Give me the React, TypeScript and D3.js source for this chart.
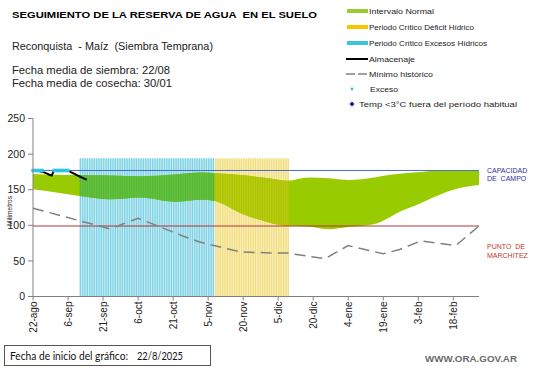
import React from "react";
import * as d3 from "d3";

const W = 541;
const H = 368;

const domainStart = "2025-08-22";
const domainEnd = "2026-03-01";

const tickDates = [
  "2025-08-22", "2025-09-06", "2025-09-21", "2025-10-06", "2025-10-21", "2025-11-05",
  "2025-11-20", "2025-12-05", "2025-12-20", "2026-01-04", "2026-01-19", "2026-02-03", "2026-02-18",
];
const tickLabels = [
  "22-ago", "6-sep", "21-sep", "6-oct", "21-oct", "5-nov",
  "20-nov", "5-dic", "20-dic", "4-ene", "19-ene", "3-feb", "18-feb",
];
const yTicks = [0, 50, 100, 150, 200, 250];

const capacidadCampo = 177;
const puntoMarchitez = 99;
const periodTop = 194;

// Intervalo normal
const bandDates = [
  "2025-08-22", "2025-09-01", "2025-09-11", "2025-09-24", "2025-10-07", "2025-10-22",
  "2025-11-02", "2025-11-08", "2025-11-19", "2025-12-01", "2025-12-09", "2025-12-18",
  "2025-12-27", "2026-01-04", "2026-01-15", "2026-01-18", "2026-01-26", "2026-02-04",
  "2026-02-10", "2026-02-18", "2026-03-01",
];
const bandUpper = [172, 171, 170.5, 170, 169, 171.5, 174, 173, 170.5, 166, 162.5, 167, 166, 163.5, 167, 169, 172.5, 175, 176.5, 177, 177];
const bandLower = [150.5, 146, 141, 136.5, 139, 133, 136, 134, 117, 104, 99, 98, 94.5, 97.5, 101.5, 105, 119, 131, 140, 150, 156.5];

// Mínimo histórico
const minDates = [
  "2025-08-22", "2025-09-24", "2025-10-06", "2025-10-26", "2025-11-01", "2025-11-07",
  "2025-11-19", "2025-12-04", "2025-12-09", "2025-12-25", "2026-01-04", "2026-01-19",
  "2026-01-26", "2026-02-04", "2026-02-19", "2026-03-01",
];
const minValues = [124, 95, 110, 84, 77, 72, 62.5, 61, 61, 53, 71.5, 60, 66, 78, 71.5, 99];

// Almacenaje (diario desde 22/08)
const almStart = "2025-08-22";
const almValues = [177, 177, 177, 176, 175, 174, 172.5, 171, 170, 177, 177, 177, 177, 177, 177, 177, 175, 173.5, 172, 170, 168.5, 167, 165.5, 164];

// Exceso
const excesoDates = [
  "2025-08-22", "2025-08-23", "2025-08-24", "2025-08-25", "2025-08-26",
  "2025-08-31", "2025-09-01", "2025-09-02", "2025-09-03", "2025-09-04", "2025-09-05", "2025-09-06",
];
const excesoValues = [177, 177, 177, 177, 177, 177, 177, 177, 177, 177, 177, 177];

// Periodos críticos
const excesoPeriod = ["2025-09-11", "2025-11-07"];
const deficitPeriod = ["2025-11-08", "2025-12-09"];

const parse = d3.utcParse("%Y-%m-%d");
const P = (s: string) => parse(s) as Date;

const FONT = "'Liberation Sans', Arial, sans-serif";

export default function App() {
  const x = d3.scaleUtc().domain([P(domainStart), P(domainEnd)]).range([33, 479]);
  const y = d3.scaleLinear().domain([0, 250]).range([296.5, 118.5]);

  const bandPts = bandDates.map((d, i) => ({ d: P(d), u: bandUpper[i], l: bandLower[i] }));
  const area = d3
    .area<{ d: Date; u: number; l: number }>()
    .x((p) => x(p.d))
    .y0((p) => y(p.l))
    .y1((p) => y(p.u))
    .curve(d3.curveMonotoneX);
  const bandPath = area(bandPts) || "";

  const minLine = d3
    .line<number>()
    .x((_, i) => x(P(minDates[i])))
    .y((v) => y(v))(minValues) || "";

  const almLine = d3
    .line<number>()
    .x((_, i) => x(d3.utcDay.offset(P(almStart), i)))
    .y((v) => y(v))(almValues) || "";

  const stripeW = 1.3;
  const periodDays = (p: string[]) => d3.utcDay.range(P(p[0]), d3.utcDay.offset(P(p[1]), 1));
  const cyanDays = periodDays(excesoPeriod);
  const yellowDays = periodDays(deficitPeriod);

  const periodRect = (days: Date[], fill: string, key: string) => {
    const x0 = x(days[0]);
    const x1 = x(days[days.length - 1]) + stripeW;
    return <rect key={key} x={x0} y={y(periodTop)} width={x1 - x0} height={y(0) - y(periodTop)} fill={fill} />;
  };
  const stripes = (days: Date[], fill: string, key: string) => (
    <g key={key}>
      {days.map((d, i) => (
        <rect key={i} x={x(d)} y={y(periodTop)} width={stripeW} height={y(0) - y(periodTop)} fill={fill} />
      ))}
    </g>
  );

  const legendRows = [11, 27, 43, 59, 74, 89, 104];
  const pre = { whiteSpace: "pre" } as React.CSSProperties;

  return (
    <svg width={W} height={H} style={{ position: "absolute", left: 0, top: 0, background: "#fff" }} fontFamily={FONT}>
      <defs>
        <clipPath id="bandClip">
          <path d={bandPath} />
        </clipPath>
      </defs>
      <rect x={0} y={0} width={W} height={H} fill="#fff" />

      {/* periods over white */}
      {periodRect(cyanDays, "#c9eef6", "cbg")}
      {stripes(cyanDays, "#7fd2e3", "cst")}
      {periodRect(yellowDays, "#fbf2c6", "ybg")}
      {stripes(yellowDays, "#f1dc7a", "yst")}

      {/* normal band */}
      <path d={bandPath} fill="#99cc00" />
      <g clipPath="url(#bandClip)">
        {periodRect(cyanDays, "#6ac23c", "cbg2")}
        {stripes(cyanDays, "#55b838", "cst2")}
        {periodRect(yellowDays, "#bccd1a", "ybg2")}
        {stripes(yellowDays, "#adc400", "yst2")}
      </g>

      {/* reference lines */}
      <line x1={33} x2={479} y1={y(capacidadCampo)} y2={y(capacidadCampo)} stroke="#4a6ec4" strokeWidth={1} />
      <line x1={33} x2={479} y1={y(puntoMarchitez)} y2={y(puntoMarchitez)} stroke="#b5323a" strokeWidth={1} />

      {/* minimo historico */}
      <path d={minLine} fill="none" stroke="#808080" strokeWidth={1.5} strokeDasharray="11,6" />

      {/* almacenaje */}
      <path d={almLine} fill="none" stroke="#000" strokeWidth={2} />

      {/* exceso */}
      {excesoDates.map((d, i) => (
        <circle key={i} cx={x(P(d))} cy={y(excesoValues[i])} r={1.9} fill="#2fc3e6" />
      ))}

      {/* axes */}
      <line x1={33} x2={33} y1={y(250)} y2={y(0)} stroke="#808080" />
      <line x1={33} x2={479} y1={y(0)} y2={y(0)} stroke="#808080" />
      {yTicks.map((t) => (
        <g key={t}>
          <line x1={28} x2={33} y1={y(t)} y2={y(t)} stroke="#808080" />
          <text x={25} y={y(t)} dy="0.35em" textAnchor="end" fontSize={10.5} fill="#222">
            {t}
          </text>
        </g>
      ))}
      {tickDates.map((d, i) => {
        const xx = x(P(d));
        return (
          <g key={d}>
            <line x1={xx} x2={xx} y1={y(0)} y2={y(0) + 4} stroke="#808080" />
            <text
              transform={`translate(${xx},${y(0) + 5}) rotate(-90)`}
              dy="0.35em"
              textAnchor="end"
              fontSize={10}
              fill="#222"
            >
              {tickLabels[i]}
            </text>
          </g>
        );
      })}
      <text transform={`translate(12,211) rotate(-90)`} textAnchor="middle" fontSize={6.5} fill="#222">
        Milímetros
      </text>

      {/* right labels */}
      <text x={487} y={172.5} fontSize={7} fill="#2f2f9e" style={pre}>CAPACIDAD</text>
      <text x={487} y={180.5} fontSize={7} fill="#2f2f9e" style={pre}>DE  CAMPO</text>
      <text x={487} y={248.5} fontSize={7} fill="#c0392b" style={pre}>PUNTO  DE</text>
      <text x={487} y={258} fontSize={7} fill="#c0392b" style={pre}>MARCHITEZ</text>

      {/* titles */}
      <text x={12} y={18.3} fontSize={8.8} fontWeight="bold" fill="#000" textLength={305} lengthAdjust="spacingAndGlyphs" style={pre}>
        SEGUIMIENTO DE LA RESERVA DE AGUA  EN EL SUELO
      </text>
      <text x={12} y={50} fontSize={10} fill="#222" textLength={201} lengthAdjust="spacingAndGlyphs" style={pre}>
        Reconquista  - Maíz  (Siembra Temprana)
      </text>
      <text x={12} y={74.3} fontSize={10} fill="#222" textLength={158} lengthAdjust="spacingAndGlyphs">
        Fecha media de siembra: 22/08
      </text>
      <text x={12} y={87.3} fontSize={10} fill="#222" textLength={160} lengthAdjust="spacingAndGlyphs">
        Fecha media de cosecha: 30/01
      </text>

      {/* legend */}
      <rect x={347} y={legendRows[0] - 2} width={21} height={4} fill="#99cc33" />
      <rect x={347} y={legendRows[1] - 2} width={21} height={4} fill="#f7c600" />
      <rect x={347} y={legendRows[2] - 2} width={21} height={4} fill="#3cc6dc" />
      <line x1={346} x2={368} y1={legendRows[3]} y2={legendRows[3]} stroke="#000" strokeWidth={2} />
      <line x1={346} x2={368} y1={legendRows[4]} y2={legendRows[4]} stroke="#808080" strokeWidth={1.5} strokeDasharray="9,3" />
      <circle cx={352} cy={legendRows[5]} r={1.4} fill="#2fc3e6" />
      <path d={`M352,${legendRows[6] - 2.5} L354.5,${legendRows[6]} L352,${legendRows[6] + 2.5} L349.5,${legendRows[6]} Z`} fill="#1a1aa0" />
      <g fontSize={7.5} fill="#222">
        <text x={369} y={legendRows[0] + 2.6} textLength={65} lengthAdjust="spacingAndGlyphs">Intervalo Normal</text>
        <text x={369} y={legendRows[1] + 2.6} textLength={105} lengthAdjust="spacingAndGlyphs">Periodo Crítico Déficit Hídrico</text>
        <text x={369} y={legendRows[2] + 2.6} textLength={118} lengthAdjust="spacingAndGlyphs">Periodo Crítico Excesos Hídricos</text>
        <text x={369} y={legendRows[3] + 2.6} textLength={46} lengthAdjust="spacingAndGlyphs">Almacenaje</text>
        <text x={369} y={legendRows[4] + 2.6} textLength={64} lengthAdjust="spacingAndGlyphs">Mínimo histórico</text>
        <text x={370} y={legendRows[5] + 2.8} fontSize={8} textLength={28} lengthAdjust="spacingAndGlyphs">Exceso</text>
        <text x={359} y={legendRows[6] + 2.8} fontSize={8} textLength={158} lengthAdjust="spacingAndGlyphs">Temp &lt;3°C fuera del período habitual</text>
      </g>

      {/* footer */}
      <rect x={4.5} y={345.5} width={206} height={20} fill="#fff" stroke="#555" strokeWidth={1} />
      <g fontSize={10.5} fill="#111" fontFamily="Lato, 'Open Sans', sans-serif">
        <text x={10} y={360} textLength={118} lengthAdjust="spacingAndGlyphs">Fecha de inicio del gráfico:</text>
        <text x={137} y={360} textLength={46} lengthAdjust="spacingAndGlyphs">22/8/2025</text>
      </g>
      <text x={425} y={362} fontSize={8.5} fontWeight="bold" fill="#6b6b6b" textLength={92} lengthAdjust="spacingAndGlyphs">
        WWW.ORA.GOV.AR
      </text>
    </svg>
  );
}
